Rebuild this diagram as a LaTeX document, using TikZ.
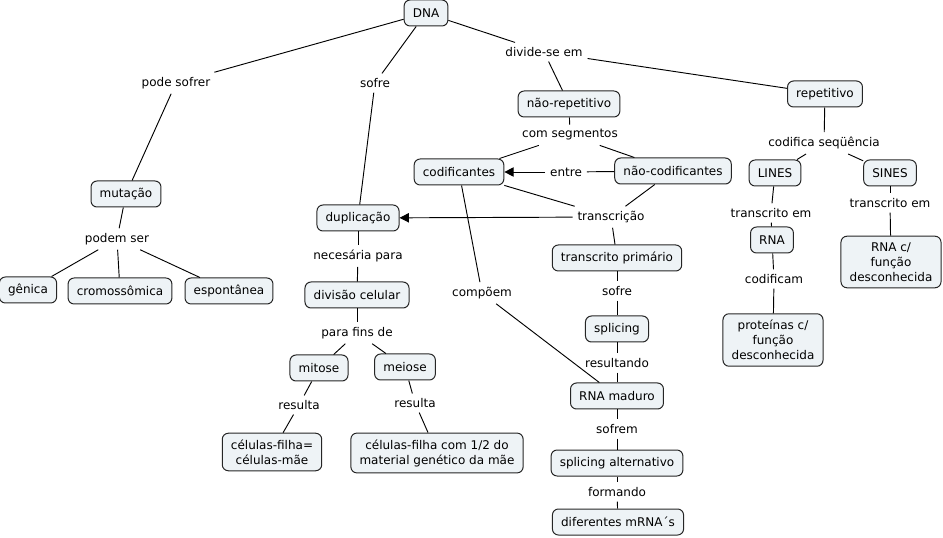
\documentclass[tikz,border=0pt]{standalone}
\usepackage{fontspec}
\setmainfont{DejaVu Sans}
\usetikzlibrary{arrows.meta}
\definecolor{boxfill}{RGB}{238,243,246}
\begin{document}
\begin{tikzpicture}[x=0.75pt,y=-0.75pt,
  font=\fontsize{9}{10.5}\selectfont,
  concept/.style={draw=black!85,fill=boxfill,rounded corners=4.5pt,line width=0.75pt,
     inner xsep=6.5pt,inner ysep=2pt,minimum height=19.5pt,align=center},
  multi/.style={concept,inner ysep=4.8pt,font=\fontsize{9}{11.2}\selectfont},
  lbl/.style={inner sep=3.5pt,fill=white},
  conn/.style={line width=0.7pt},
  arr/.style={conn,-{Triangle[length=7pt,width=7pt]}}]
\useasboundingbox (0,0) rectangle (943,538);
% concepts
\node[concept] (dna) at (426,13) {DNA};
\node[concept] (mut) at (126,194) {mutação};
\node[concept] (gen) at (28,290) {gênica};
\node[concept] (cro) at (120,291) {cromossômica};
\node[concept] (esp) at (229,291) {espontânea};
\node[concept] (dup) at (358,218) {duplicação};
\node[concept] (div) at (357,295) {divisão celular};
\node[concept] (mit) at (319,368) {mitose};
\node[concept] (mei) at (405,367) {meiose};
\node[multi] (cfm) at (272,452) {células-filha=\\células-mãe};
\node[multi] (cf2) at (437,453) {células-filha com 1/2 do\\material genético da mãe};
\node[concept] (nrep) at (569,104) {não-repetitivo};
\node[concept] (rep) at (825,94) {repetitivo};
\node[concept] (cod) at (459,172) {codificantes};
\node[concept] (ncod) at (673,171) {não-codificantes};
\node[concept] (tp) at (617,258) {transcrito primário};
\node[concept] (spl) at (617,329) {splicing};
\node[concept] (rnam) at (617,396) {RNA maduro};
\node[concept] (spla) at (617,463) {splicing alternativo};
\node[concept] (dif) at (618,522) {diferentes mRNA´s};
\node[concept] (lines) at (775,173) {LINES};
\node[concept] (sines) at (890,173) {SINES};
\node[concept] (rna) at (772,240) {RNA};
\node[multi] (prot) at (773,340) {proteínas c/\\função\\desconhecida};
\node[multi] (rnac) at (891,262) {RNA c/\\função\\desconhecida};
% labels
\node[lbl] (lpode) at (176,83) {pode sofrer};
\node[lbl] (lsofre) at (375,83) {sofre};
\node[lbl] (ldiv) at (544,52) {divide-se em};
\node[lbl] (lcom) at (570,135) {com segmentos};
\node[lbl] (lcodseq) at (824,143) {codifica seqüência};
\node[lbl] (lentre) at (566,172) {entre};
\node[lbl] (ltrans) at (611,217) {transcrição};
\node[lbl] (lsofre2) at (617,291) {sofre};
\node[lbl] (lres) at (617,363) {resultando};
\node[lbl] (lsofrem) at (617,429) {sofrem};
\node[lbl] (lform) at (617,492) {formando};
\node[lbl] (lcomp) at (482,293) {compõem};
\node[lbl] (ltr1) at (771,213) {transcrito em};
\node[lbl] (lcodif) at (774,279) {codificam};
\node[lbl] (ltr2) at (890,203) {transcrito em};
\node[lbl] (lpodem) at (117,239) {podem ser};
\node[lbl] (lnec) at (358,256) {necesária para};
\node[lbl] (lfins) at (357,333) {para fins de};
\node[lbl] (lres1) at (299,405) {resulta};
\node[lbl] (lres2) at (415,403) {resulta};
% connectors
\begin{scope}[conn]
\draw (dna) -- (lpode); \draw (lpode) -- (mut);
\draw (dna) -- (lsofre); \draw (lsofre) -- (dup);
\draw (dna) -- (ldiv); \draw (ldiv) -- (nrep); \draw (ldiv) -- (rep);
\draw (nrep) -- (lcom); \draw (lcom) -- (cod); \draw (lcom) -- (ncod);
\draw (ncod) -- (lentre);
\draw (cod) -- (ltrans); \draw (ncod) -- (ltrans); \draw (ltrans) -- (tp);
\draw (tp) -- (lsofre2); \draw (lsofre2) -- (spl);
\draw (spl) -- (lres); \draw (lres) -- (rnam);
\draw (rnam) -- (lsofrem); \draw (lsofrem) -- (spla);
\draw (spla) -- (lform); \draw (lform) -- (dif);
\draw (cod) -- (lcomp); \draw (lcomp) -- (rnam);
\draw (rep) -- (lcodseq); \draw (lcodseq) -- (lines); \draw (lcodseq) -- (sines);
\draw (lines) -- (ltr1); \draw (ltr1) -- (rna);
\draw (rna) -- (lcodif); \draw (lcodif) -- (prot);
\draw (sines) -- (ltr2); \draw (ltr2) -- (rnac);
\draw (mut) -- (lpodem); \draw (lpodem) -- (gen); \draw (lpodem) -- (cro); \draw (lpodem) -- (esp);
\draw (dup) -- (lnec); \draw (lnec) -- (div);
\draw (div) -- (lfins); \draw (lfins) -- (mit); \draw (lfins) -- (mei);
\draw (mit) -- (lres1); \draw (lres1) -- (cfm);
\draw (mei) -- (lres2); \draw (lres2) -- (cf2);
\end{scope}
\draw[arr] (lentre) -- (cod);
\draw[arr] (ltrans) -- (dup);
\end{tikzpicture}
\end{document}
